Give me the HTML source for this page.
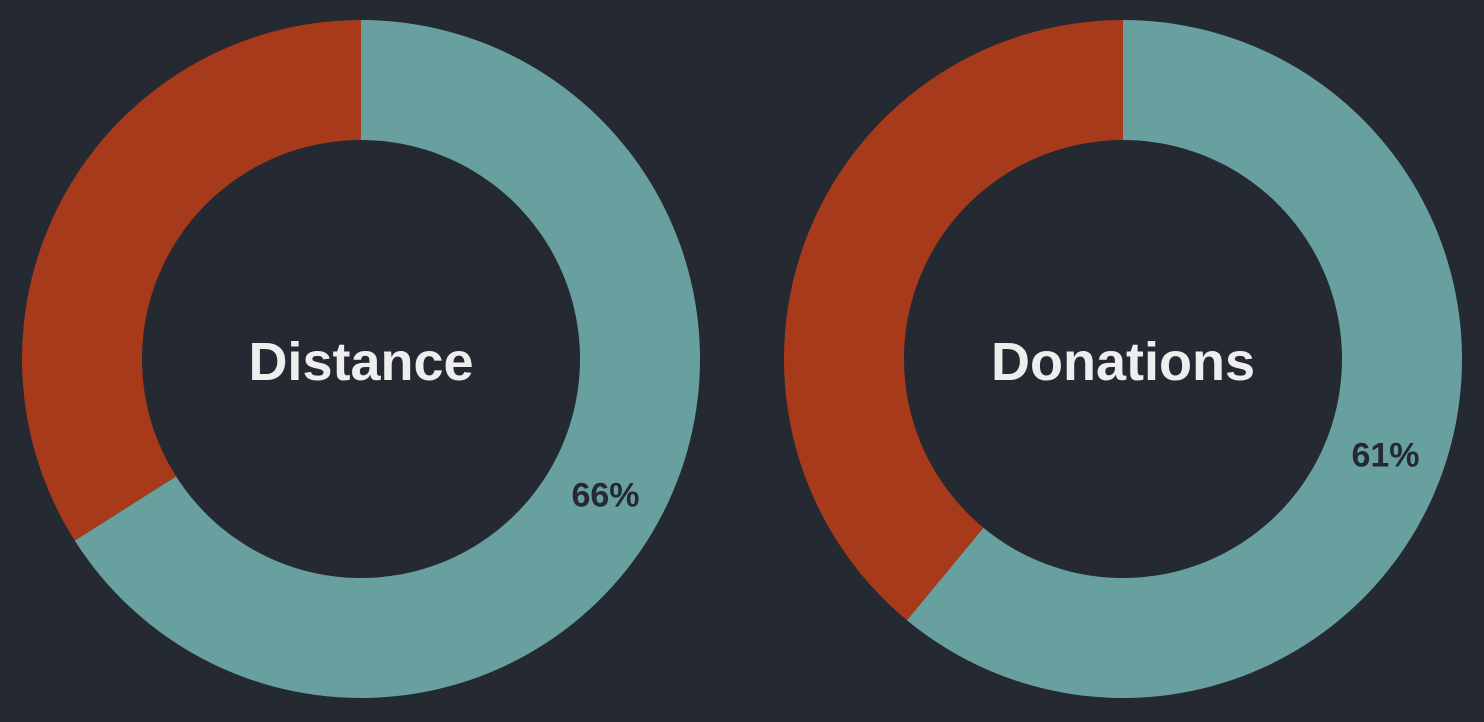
<!DOCTYPE html>
<html>
<head>
<meta charset="utf-8">
<style>
  html,body{margin:0;padding:0;background:#252932;}
  svg{display:block;}
  text{font-family:"Liberation Sans",sans-serif;font-weight:bold;}
</style>
</head>
<body>
<svg id="chart" width="1484" height="722" viewBox="0 0 1484 722"></svg>
<script>
const chartTitles = ["Distance", "Donations"];
const primaryValues = [66, 61];
const centersX = [361, 1123];
const centerY = 359;
const outerR = 339, innerR = 219;
const NS = "http://www.w3.org/2000/svg";
const svg = document.getElementById("chart");

function pt(cx, cy, r, frac) {
  const a = frac * 2 * Math.PI;
  return [cx + r * Math.sin(a), cy - r * Math.cos(a)];
}
function arcPath(cx, cy, f0, f1) {
  const large = (f1 - f0) > 0.5 ? 1 : 0;
  const [x0, y0] = pt(cx, cy, outerR, f0);
  const [x1, y1] = pt(cx, cy, outerR, f1);
  const [x2, y2] = pt(cx, cy, innerR, f1);
  const [x3, y3] = pt(cx, cy, innerR, f0);
  return `M${x0},${y0} A${outerR},${outerR} 0 ${large} 1 ${x1},${y1} L${x2},${y2} A${innerR},${innerR} 0 ${large} 0 ${x3},${y3} Z`;
}

chartTitles.forEach((title, i) => {
  const cx = centersX[i];
  const v = primaryValues[i] / 100;
  const g = document.createElementNS(NS, "g");
  
  
  svg.appendChild(g);

  const teal = document.createElementNS(NS, "path");
  teal.setAttribute("d", arcPath(cx, centerY, 0, v));
  teal.setAttribute("fill", "#68a0a0");
  
  
  g.appendChild(teal);

  const red = document.createElementNS(NS, "path");
  red.setAttribute("d", arcPath(cx, centerY, v, 1));
  red.setAttribute("fill", "#a63a1a");
  
  
  g.appendChild(red);

  const t = document.createElementNS(NS, "text");
  t.setAttribute("x", cx);
  t.setAttribute("y", centerY + 21);
  t.setAttribute("text-anchor", "middle");
  t.setAttribute("font-size", "54");
  t.setAttribute("fill", "#eeeeee");
  t.textContent = title;
  
  
  g.appendChild(t);

  const [lx, ly] = pt(cx, centerY, (outerR + innerR) / 2, v / 2);
  const p = document.createElementNS(NS, "text");
  p.setAttribute("x", lx);
  p.setAttribute("y", ly + 13);
  p.setAttribute("text-anchor", "middle");
  p.setAttribute("font-size", "34");
  p.setAttribute("fill", "#252932");
  p.textContent = primaryValues[i] + "%";
  
  
  g.appendChild(p);
});
</script>
</body>
</html>
